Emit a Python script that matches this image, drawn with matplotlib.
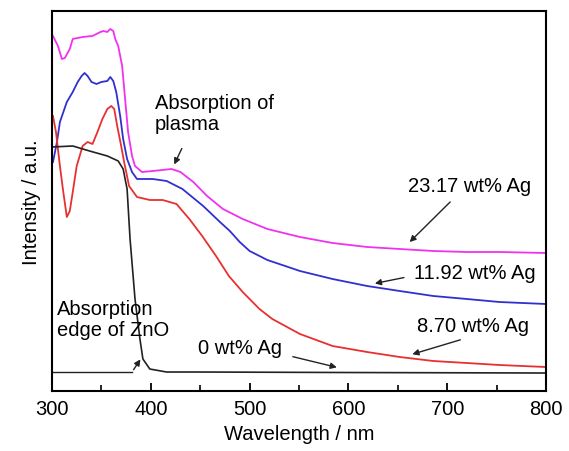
import matplotlib
matplotlib.use("Agg")
import matplotlib.pyplot as plt
from matplotlib.ticker import MultipleLocator

plt.rcParams['font.family'] = ['Liberation Sans', 'DejaVu Sans']

# UV-vis absorption spectra (intensity in a.u.)
wl_23 = [301, 306, 310, 313, 318, 321, 331, 341, 349, 352, 356, 359, 362, 364, 367,
         371, 374, 377, 381, 384, 391, 402, 421, 430, 443, 457, 473, 493, 518, 551,
         584, 619, 652, 686, 720, 753, 800]
int_23 = [3.55, 3.45, 3.32, 3.33, 3.42, 3.52, 3.54, 3.55, 3.59, 3.60, 3.59, 3.62, 3.60,
          3.52, 3.45, 3.25, 2.92, 2.59, 2.35, 2.25, 2.19, 2.20, 2.22, 2.19, 2.09, 1.95,
          1.82, 1.72, 1.62, 1.54, 1.48, 1.44, 1.42, 1.40, 1.39, 1.39, 1.38]

wl_11 = [301, 305, 308, 315, 321, 326, 330, 333, 336, 340, 345, 350, 356, 359, 362,
         365, 369, 372, 376, 381, 386, 402, 416, 432, 453, 470, 480, 490, 500, 518,
         551, 584, 619, 652, 686, 720, 753, 800]
int_11 = [2.29, 2.49, 2.69, 2.89, 2.99, 3.09, 3.15, 3.18, 3.15, 3.09, 3.07, 3.09, 3.10,
          3.14, 3.10, 2.99, 2.75, 2.52, 2.32, 2.19, 2.12, 2.12, 2.10, 2.02, 1.85, 1.69,
          1.60, 1.49, 1.40, 1.31, 1.20, 1.12, 1.05, 1.00, 0.95, 0.92, 0.89, 0.87]

wl_8 = [301, 304, 308, 311, 315, 318, 321, 325, 331, 336, 341, 346, 351, 356, 360,
        363, 366, 370, 373, 378, 386, 399, 412, 426, 439, 452, 466, 479, 493, 510,
        523, 551, 584, 619, 652, 686, 720, 753, 800]
int_8 = [2.75, 2.59, 2.25, 2.02, 1.74, 1.80, 1.99, 2.25, 2.45, 2.49, 2.47, 2.59, 2.72,
         2.82, 2.85, 2.82, 2.65, 2.45, 2.29, 2.05, 1.94, 1.91, 1.91, 1.87, 1.72, 1.55,
         1.35, 1.15, 0.99, 0.82, 0.72, 0.57, 0.45, 0.39, 0.34, 0.30, 0.28, 0.26, 0.24]

wl_0 = [300, 321, 338, 356, 367, 372, 376, 379, 384, 389, 392, 399, 416, 449, 600, 800]
int_0 = [2.44, 2.45, 2.40, 2.35, 2.30, 2.22, 2.02, 1.52, 0.92, 0.52, 0.32, 0.22, 0.19,
         0.19, 0.185, 0.18]

fig = plt.figure(figsize=(5.69, 4.52), dpi=100)
ax = fig.add_axes([0.0914, 0.1327, 0.8682, 0.8408])

ax.plot(wl_23, int_23, color='#f032f0', lw=1.3)
ax.plot(wl_11, int_11, color='#3030d0', lw=1.3)
ax.plot(wl_8, int_8, color='#e83030', lw=1.3)
ax.plot(wl_0, int_0, color='#222222', lw=1.2)

ax.set_xlim(300, 800)
ax.set_ylim(0, 3.8)
ax.xaxis.set_major_locator(MultipleLocator(100))
ax.xaxis.set_minor_locator(MultipleLocator(50))
ax.tick_params(axis='x', which='major', direction='in', length=6, width=1.3,
               labelsize=14.5, pad=6)
ax.tick_params(axis='x', which='minor', direction='in', length=4, width=1.2)
ax.set_yticks([])
for s in ax.spines.values():
    s.set_linewidth(1.5)

ax.set_xlabel('Wavelength / nm', fontsize=14.5, labelpad=4)
ax.set_ylabel('Intensity / a.u.', fontsize=14.5, labelpad=8)

fs = 14.5
arr = dict(arrowstyle='-|>', color='#222222', lw=1.0, mutation_scale=9)

ax.text(404, 2.78, 'Absorption of\nplasma', fontsize=fs, ha='left', va='center',
        linespacing=1.15)
ax.annotate('', xy=(422.5, 2.24), xytext=(432.6, 2.45), arrowprops=arr)

ax.text(723, 2.05, '23.17 wt% Ag', fontsize=fs, ha='center', va='center')
ax.annotate('', xy=(660, 1.47), xytext=(705, 1.91), arrowprops=arr)

ax.text(728, 1.19, '11.92 wt% Ag', fontsize=fs, ha='center', va='center')
ax.annotate('', xy=(624, 1.07), xytext=(659, 1.14), arrowprops=arr)

ax.text(726, 0.66, '8.70 wt% Ag', fontsize=fs, ha='center', va='center')
ax.annotate('', xy=(662, 0.36), xytext=(716, 0.52), arrowprops=arr)

ax.text(490, 0.44, '0 wt% Ag', fontsize=fs, ha='center', va='center')
ax.annotate('', xy=(591, 0.23), xytext=(541, 0.35), arrowprops=arr)

ax.text(305, 0.72, 'Absorption\nedge of ZnO', fontsize=fs, ha='left', va='center',
        linespacing=1.15)
ax.plot([300, 381], [0.19, 0.19], color='#222222', lw=1.0)
ax.annotate('', xy=(391, 0.34), xytext=(381, 0.19), arrowprops=arr)

fig.savefig('out.png', dpi=100)
